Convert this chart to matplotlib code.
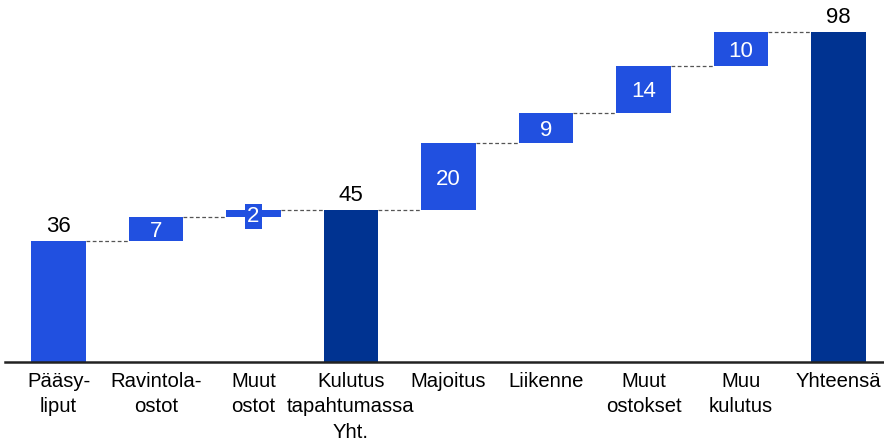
import matplotlib.pyplot as plt
import numpy as np

labels = ['Pääsy-\nliput', 'Ravintola-\nostot', 'Muut\nostot', 'Kulutus\ntapahtumassa\nYht.',
          'Majoitus', 'Liikenne', 'Muut\nostokset', 'Muu\nkulutus', 'Yhteensä']
values = [36, 7, 2, 45, 20, 9, 14, 10, 98]
is_total = [False, False, False, True, False, False, False, False, True]

light = '#2150E0'
dark = '#003391'

plt.rcParams['font.family'] = ['Liberation Sans', 'DejaVu Sans']

fig = plt.figure(figsize=(8.84, 4.46), dpi=100)
ax = fig.add_axes([5 / 884, 0.1883, 1 - 5 / 884, 1 - 0.1883])

x = np.arange(len(values))
width = 0.56
bottoms = []
running = 0
for i, v in enumerate(values):
    if is_total[i] or i == 0:
        bottoms.append(0)
        running = v
    else:
        bottoms.append(running)
        running += v

for i, v in enumerate(values):
    col = dark if is_total[i] else light
    ax.bar(x[i], v, width, bottom=bottoms[i], color=col, zorder=2)
    top = bottoms[i] + v
    if is_total[i] or i == 0:
        ax.text(x[i], top + 2.7, str(v), ha='center', va='baseline', fontsize=16)
    elif v < 4:
        ax.text(x[i], bottoms[i] + v / 2, str(v), ha='center', va='center_baseline', fontsize=16,
                color='white', bbox=dict(boxstyle='square,pad=0.1', fc=light, ec='none'), zorder=3)
    else:
        ax.text(x[i], bottoms[i] + v / 2, str(v), ha='center', va='center_baseline', fontsize=16,
                color='white', zorder=3)
    # dashed connector to the next bar
    if i < len(values) - 1:
        ax.plot([x[i] + width / 2, x[i + 1] - width / 2], [top, top],
                color='#555555', lw=0.9, dashes=(3, 2), zorder=1)

ax.set_xlim(-0.549, 8.467)
ax.set_ylim(0, 107.5)
ax.set_yticks([])
ax.set_xticks(x)
ax.set_xticklabels(labels, fontsize=14.6, linespacing=1.45)
ax.tick_params(axis='x', length=0, pad=7)
for s in ['top', 'right', 'left']:
    ax.spines[s].set_visible(False)
ax.spines['bottom'].set_color('#222222')
ax.spines['bottom'].set_linewidth(1.8)

plt.savefig('out.png', dpi=100)
